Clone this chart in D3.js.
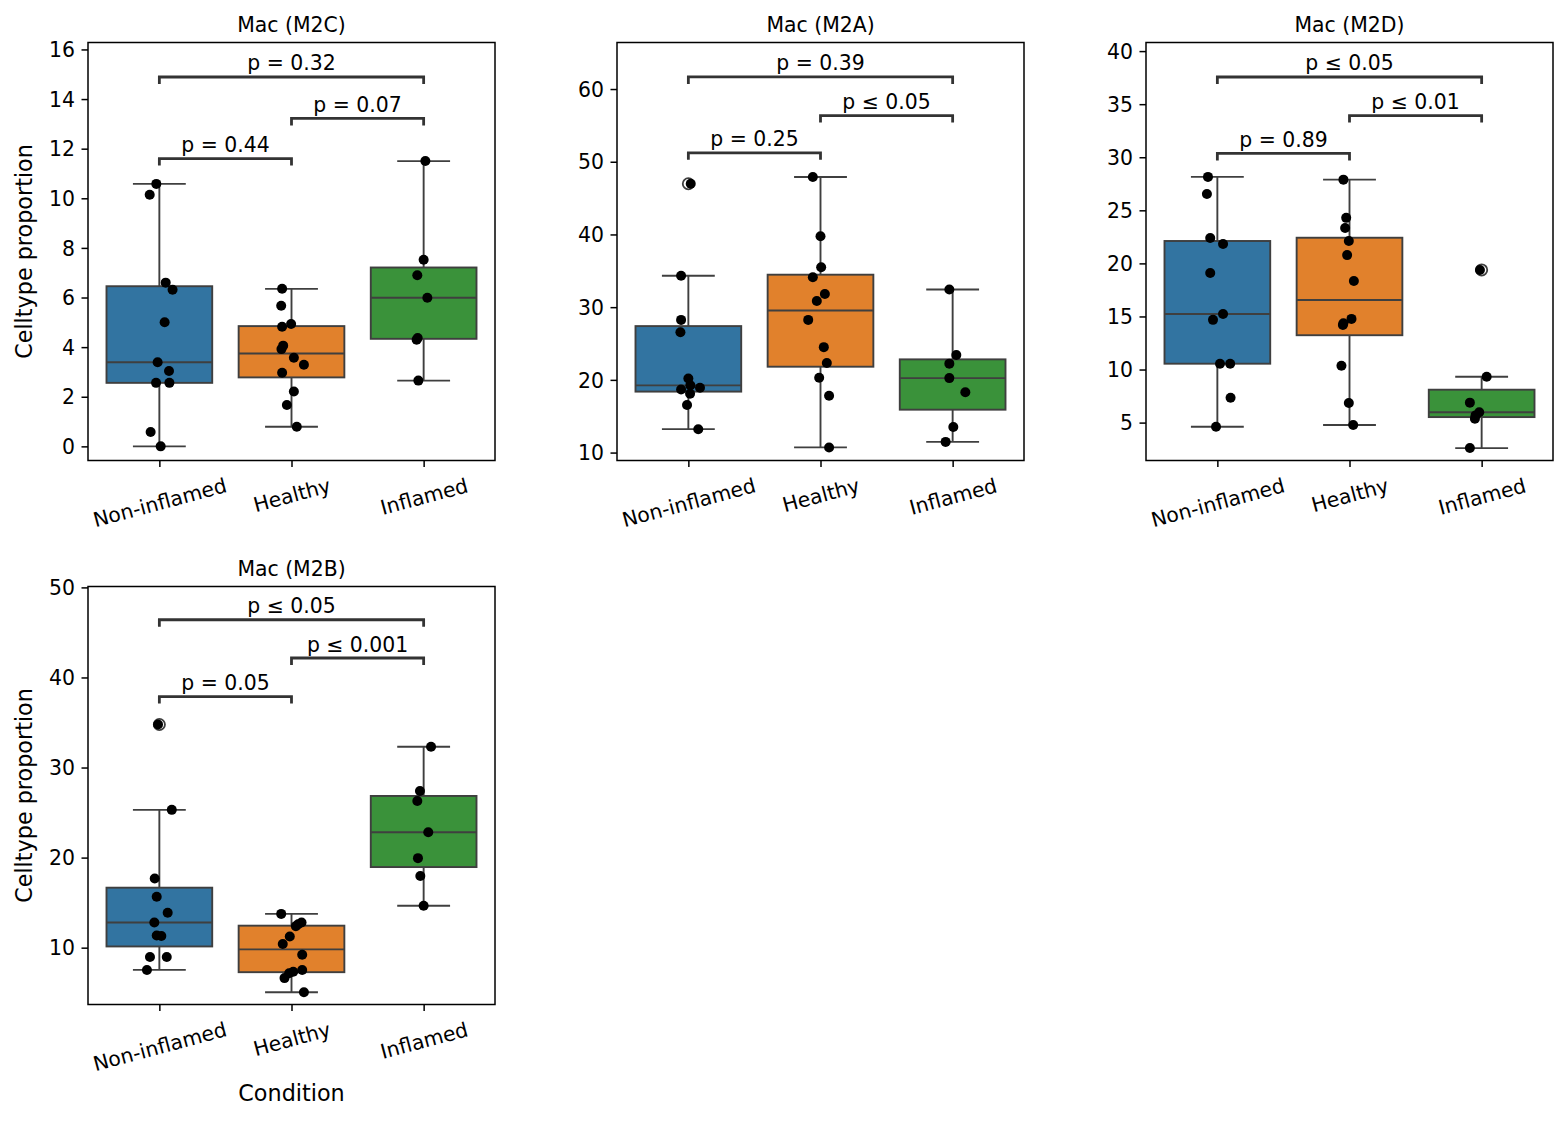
<!DOCTYPE html>
<html><head><meta charset="utf-8">
<script src="https://cdn.jsdelivr.net/npm/d3@7"></script>
<style>
body{margin:0;background:#fff}
text{font-family:"DejaVu Sans",sans-serif;fill:#000}
</style>
</head><body>
<svg id="chart" width="1568" height="1121"></svg>
<script>
// ---------- data ----------
const categories = ["Non-inflamed", "Healthy", "Inflamed"];
const panelTitles = ["Mac (M2C)", "Mac (M2A)", "Mac (M2D)", "Mac (M2B)"];
const pairs = [[0, 1], [1, 2], [0, 2]];

// Mac (M2C)
const m2cValues = [
  [10.58, 10.14, 6.6, 6.31, 5.0, 3.39, 3.04, 2.56, 2.56, 0.58, 0.0],
  [6.35, 5.67, 4.82, 4.93, 4.06, 3.92, 3.57, 3.29, 2.97, 2.21, 1.67, 0.79],
  [11.5, 7.52, 6.9, 5.99, 4.37, 4.3, 2.65]
];
const m2cJitter = [
  [-0.023, -0.073, 0.048, 0.10, 0.04, -0.013, 0.073, -0.025, 0.076, -0.066, 0.01],
  [-0.071, -0.078, -0.071, -0.003, -0.063, -0.076, 0.018, 0.094, -0.071, 0.018, -0.035, 0.04],
  [0.013, 0, -0.048, 0.028, -0.045, -0.053, -0.04]
];
const m2cDomain = [-0.57, 16.28];
const m2cTicks = [0, 2, 4, 6, 8, 10, 12, 14, 16];
const m2cPvals = ["p = 0.44", "p = 0.07", "p = 0.32"];
const m2cBracketY = [11.6, 13.22, 14.89];

// Mac (M2A)
const m2aValues = [
  [46.97, 34.31, 28.25, 26.54, 20.19, 19.24, 18.91, 18.67, 18.1, 16.54, 13.22],
  [47.91, 39.76, 35.5, 34.12, 31.8, 30.85, 28.25, 24.5, 22.32, 20.28, 17.82, 10.71],
  [32.42, 23.41, 22.23, 20.24, 18.29, 13.51, 11.47]
];
const m2aJitter = [
  [0.018, -0.055, -0.055, -0.06, 0, 0.015, 0.088, -0.055, 0.013, -0.01, 0.075],
  [-0.058, 0, 0.005, -0.058, 0.033, -0.028, -0.093, 0.025, 0.048, -0.01, 0.065, 0.065],
  [-0.025, 0.028, -0.025, -0.025, 0.096, 0.005, -0.053]
];
const m2aDomain = [8.91, 66.4];
const m2aTicks = [10, 20, 30, 40, 50, 60];
const m2aPvals = ["p = 0.25", "p \u2264 0.05", "p = 0.39"];
const m2aBracketY = [51.23, 56.35, 61.66];

// Mac (M2D)
const m2dValues = [
  [28.15, 26.53, 22.4, 21.82, 19.09, 15.23, 14.68, 10.55, 10.55, 7.34, 4.61],
  [27.89, 24.29, 23.34, 22.11, 20.78, 18.34, 14.77, 14.35, 14.19, 10.36, 6.85, 4.77],
  [19.38, 9.32, 6.88, 5.97, 5.68, 5.36, 2.6]
];
const m2dJitter = [
  [-0.071, -0.079, -0.054, 0.043, -0.054, 0.043, -0.033, 0.02, 0.097, 0.10, -0.01],
  [-0.046, -0.025, -0.033, -0.005, -0.018, 0.033, 0.015, -0.046, -0.05, -0.061, -0.005, 0.028],
  [-0.013, 0.038, -0.089, -0.018, -0.046, -0.051, -0.089]
];
const m2dDomain = [1.43, 40.81];
const m2dTicks = [5, 10, 15, 20, 25, 30, 35, 40];
const m2dPvals = ["p = 0.89", "p \u2264 0.01", "p \u2264 0.05"];
const m2dBracketY = [30.36, 33.93, 37.56];

// Mac (M2B)
const m2bValues = [
  [34.78, 25.3, 17.67, 15.65, 13.88, 12.8, 11.36, 11.3, 8.97, 8.97, 7.53],
  [13.75, 12.8, 12.6, 12.39, 11.24, 10.41, 9.22, 7.53, 7.32, 7.15, 6.62, 5.05],
  [32.31, 27.4, 26.29, 22.82, 19.94, 17.96, 14.66]
];
const m2bJitter = [
  [-0.01, 0.094, -0.035, -0.02, 0.063, -0.038, -0.02, 0.015, -0.071, 0.056, -0.094],
  [-0.078, 0.076, 0.05, 0.033, -0.013, -0.066, 0.081, 0.081, 0.013, -0.018, -0.053, 0.094],
  [0.056, -0.028, -0.048, 0.035, -0.043, -0.025, 0]
];
const m2bDomain = [3.69, 50.1];
const m2bTicks = [10, 20, 30, 40, 50];
const m2bPvals = ["p = 0.05", "p \u2264 0.001", "p \u2264 0.05"];
const m2bBracketY = [37.88, 42.16, 46.41];

const boxColors = ["#3274a1", "#e1812c", "#3a923a"];

// ---------- layout ----------
const panels = [
  {title: panelTitles[0], values: m2cValues, jitter: m2cJitter, domain: m2cDomain, ticks: m2cTicks, pvals: m2cPvals, bracketY: m2cBracketY, col: 0, row: 0, ylabel: true, xlabel: false},
  {title: panelTitles[1], values: m2aValues, jitter: m2aJitter, domain: m2aDomain, ticks: m2aTicks, pvals: m2aPvals, bracketY: m2aBracketY, col: 1, row: 0, ylabel: false, xlabel: false},
  {title: panelTitles[2], values: m2dValues, jitter: m2dJitter, domain: m2dDomain, ticks: m2dTicks, pvals: m2dPvals, bracketY: m2dBracketY, col: 2, row: 0, ylabel: false, xlabel: false},
  {title: panelTitles[3], values: m2bValues, jitter: m2bJitter, domain: m2bDomain, ticks: m2bTicks, pvals: m2bPvals, bracketY: m2bBracketY, col: 0, row: 1, ylabel: true, xlabel: true}
];

const W = 407, H = 418;
const colX = [88, 617, 1146];
const rowY = [42.5, 586.5];
const FS = 20.4, LFS = 22.3;
const lineGray = "#3f3f3f";

const svg = d3.select("#chart");

panels.forEach(p => {
  const x0 = colX[p.col], y0 = rowY[p.row];
  const g = svg.append("g").attr("transform", `translate(${x0},${y0})`);
  const x = d3.scaleLinear().domain([-0.54, 2.54]).range([0, W]);
  const y = d3.scaleLinear().domain(p.domain).range([H, 0]);

  const plot = g.append("g");
  // boxes
  p.values.forEach((vals, i) => {
    const s = vals.slice().sort(d3.ascending);
    const q1 = d3.quantile(s, 0.25), med = d3.quantile(s, 0.5), q3 = d3.quantile(s, 0.75);
    const iqr = q3 - q1, lo = q1 - 1.5 * iqr, hi = q3 + 1.5 * iqr;
    const wlo = d3.min(s.filter(v => v >= lo)), whi = d3.max(s.filter(v => v <= hi));
    const fliers = s.filter(v => v < lo || v > hi);
    const bg = plot.append("g").attr("stroke", lineGray).attr("stroke-width", 1.9).attr("fill", "none");
    bg.append("line").attr("x1", x(i)).attr("x2", x(i)).attr("y1", y(q1)).attr("y2", y(wlo));
    bg.append("line").attr("x1", x(i)).attr("x2", x(i)).attr("y1", y(q3)).attr("y2", y(whi));
    bg.append("line").attr("x1", x(i - 0.2)).attr("x2", x(i + 0.2)).attr("y1", y(wlo)).attr("y2", y(wlo));
    bg.append("line").attr("x1", x(i - 0.2)).attr("x2", x(i + 0.2)).attr("y1", y(whi)).attr("y2", y(whi));
    bg.append("rect").attr("x", x(i - 0.4)).attr("y", y(q3))
      .attr("width", x(i + 0.4) - x(i - 0.4)).attr("height", y(q1) - y(q3))
      .attr("fill", boxColors[i]);
    bg.append("line").attr("x1", x(i - 0.4)).attr("x2", x(i + 0.4)).attr("y1", y(med)).attr("y2", y(med));
    fliers.forEach(v => {
      bg.append("circle").attr("cx", x(i)).attr("cy", y(v)).attr("r", 5.6)
        .attr("fill", "none").attr("stroke", lineGray).attr("stroke-width", 1.8);
    });
  });
  // strip points
  p.values.forEach((vals, i) => {
    plot.append("g").selectAll("circle").data(vals).join("circle")
      .attr("cx", (d, k) => x(i + p.jitter[i][k]))
      .attr("cy", d => y(d))
      .attr("r", 5)
      .attr("fill", "#000");
  });

  // frame
  g.append("rect").attr("x", 0).attr("y", 0).attr("width", W).attr("height", H)
    .attr("fill", "none").attr("stroke", "#000").attr("stroke-width", 1.5);

  // y axis
  const ya = g.append("g").call(d3.axisLeft(y).tickValues(p.ticks).tickSize(6.5).tickPadding(6.5).tickFormat(d3.format("d")));
  ya.select(".domain").remove();
  ya.selectAll("line").attr("stroke", "#000").attr("stroke-width", 1.5);
  ya.selectAll("text").attr("font-size", FS).attr("font-family", "DejaVu Sans").attr("fill", "#000").attr("dy", "0.35em");

  // x axis
  const xa = g.append("g").attr("transform", `translate(0,${H})`)
    .call(d3.axisBottom(x).tickValues([0, 1, 2]).tickSize(6.5).tickFormat(i => categories[i]));
  xa.select(".domain").remove();
  xa.selectAll("line").attr("stroke", "#000").attr("stroke-width", 1.5);
  xa.selectAll(".tick").each(function(d) {
    const t = d3.select(this).select("text");
    t.attr("font-size", FS).attr("font-family", "DejaVu Sans").attr("fill", "#000")
      .attr("dy", null).attr("text-anchor", "middle");
    const L = t.node().getComputedTextLength();
    const h = 1.164 * FS;
    const a = 15 * Math.PI / 180;
    const cy = 13 + (L * Math.sin(a) + h * Math.cos(a)) / 2;
    t.attr("x", 0).attr("y", cy + 0.346 * FS).attr("transform", `rotate(-15,0,${cy})`);
  });

  // title
  g.append("text").attr("x", W / 2).attr("y", -11).attr("text-anchor", "middle")
    .attr("font-size", FS).text(p.title);

  // axis labels
  if (p.ylabel) {
    g.append("text").attr("transform", `translate(${31.5 - x0},${H / 2}) rotate(-90)`)
      .attr("text-anchor", "middle").attr("font-size", LFS).text("Celltype proportion");
  }
  if (p.xlabel) {
    g.append("text").attr("x", W / 2).attr("y", 1100.5 - y0).attr("text-anchor", "middle")
      .attr("font-size", LFS).text("Condition");
  }

  // significance brackets
  pairs.forEach((pr, k) => {
    const ly = y(p.bracketY[k]);
    const xa1 = x(pr[0]), xa2 = x(pr[1]);
    g.append("path")
      .attr("d", `M${xa1},${ly + 7}V${ly}H${xa2}V${ly + 7}`)
      .attr("fill", "none").attr("stroke", "#333").attr("stroke-width", 2.8);
    g.append("text").attr("x", (xa1 + xa2) / 2).attr("y", ly - 6.5)
      .attr("text-anchor", "middle").attr("font-size", FS).text(p.pvals[k]);
  });
});
</script>
</body></html>
